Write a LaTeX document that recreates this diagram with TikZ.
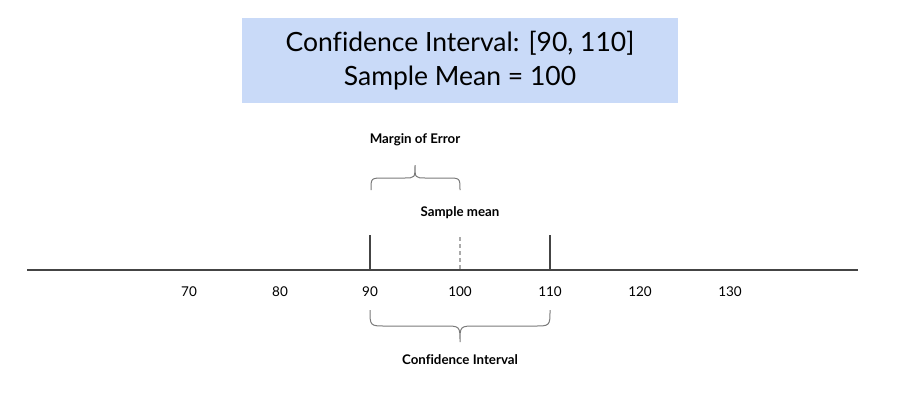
\documentclass[tikz,border=0pt]{standalone}
\usepackage{fontspec}
\setmainfont[Ligatures=NoCommon]{Lato}
\begin{document}
\begin{tikzpicture}[x=1pt,y=-1pt,
  titlebox/.style={fill=boxblue,draw=none,minimum width=436pt,minimum height=85pt,inner sep=0pt,align=center,font=\fontsize{26.5}{34}\selectfont},
  ticklabel/.style={font=\fontsize{13.5}{15}\selectfont,inner sep=0pt},
  boldlabel/.style={font=\bfseries\fontsize{13.3}{15}\selectfont,inner sep=0pt},
  axisline/.style={draw=axisgray,line width=2pt},
  bracket/.style={draw=bracegray,line width=1pt},
  ]
\definecolor{boxblue}{HTML}{C9DAF8}
\definecolor{axisgray}{HTML}{444444}
\definecolor{bracegray}{HTML}{7A7A7A}
\definecolor{dashgray}{HTML}{AAAAAA}
\useasboundingbox (0,0) rectangle (920,392);
\fill[white] (0,0) rectangle (920,392);
\node[titlebox] (title) at (460,60.5) {Confidence Interval: [90, 110]\\Sample Mean = 100};
% axis
\coordinate (axL) at (27,270);
\coordinate (axR) at (858,270);
\draw[axisline] (axL) -- (axR);
% ticks
\coordinate (t90top) at (370,235);
\coordinate (t90) at (370,270);
\coordinate (t110top) at (550,235);
\coordinate (t110) at (550,270);
\coordinate (t100top) at (460,237);
\coordinate (t100) at (460,270);
\draw[axisline] (t90top) -- (t90);
\draw[axisline] (t110top) -- (t110);
\draw[draw=dashgray,line width=1.5pt,dash pattern=on 4pt off 3pt] (t100top) -- (t100);
% tick labels
\node[ticklabel] (l70) at (189,292) {70};
\node[ticklabel] (l80) at (280,292) {80};
\node[ticklabel] (l90) at (370,292) {90};
\node[ticklabel] (l100) at (460,292) {100};
\node[ticklabel] (l110) at (550,292) {110};
\node[ticklabel] (l120) at (640,292) {120};
\node[ticklabel] (l130) at (730,292) {130};
% labels
\node[boldlabel] (moe) at (415,140) {Margin of Error};
\node[boldlabel] (smean) at (460,213) {Sample mean};
\node[boldlabel] (ci) at (460,360) {Confidence Interval};
% upper brace
\coordinate (ub1) at (371,190);
\coordinate (ub2) at (460,190);
\coordinate (ubtip) at (415,165);
\draw[bracket] (ub1) .. controls (371,178) .. (384,178) -- (404,178) .. controls (415,178) .. (ubtip)
  .. controls (415,178) .. (426,178) -- (447,178) .. controls (460,178) .. (ub2);
% lower brace
\coordinate (lb1) at (370,310);
\coordinate (lb2) at (550,310);
\coordinate (lbtip) at (460,342);
\draw[bracket] (lb1) .. controls (370,326) .. (386,326) -- (444,326) .. controls (460,326) .. (lbtip)
  .. controls (460,326) .. (476,326) -- (534,326) .. controls (550,326) .. (lb2);
\end{tikzpicture}
\end{document}
